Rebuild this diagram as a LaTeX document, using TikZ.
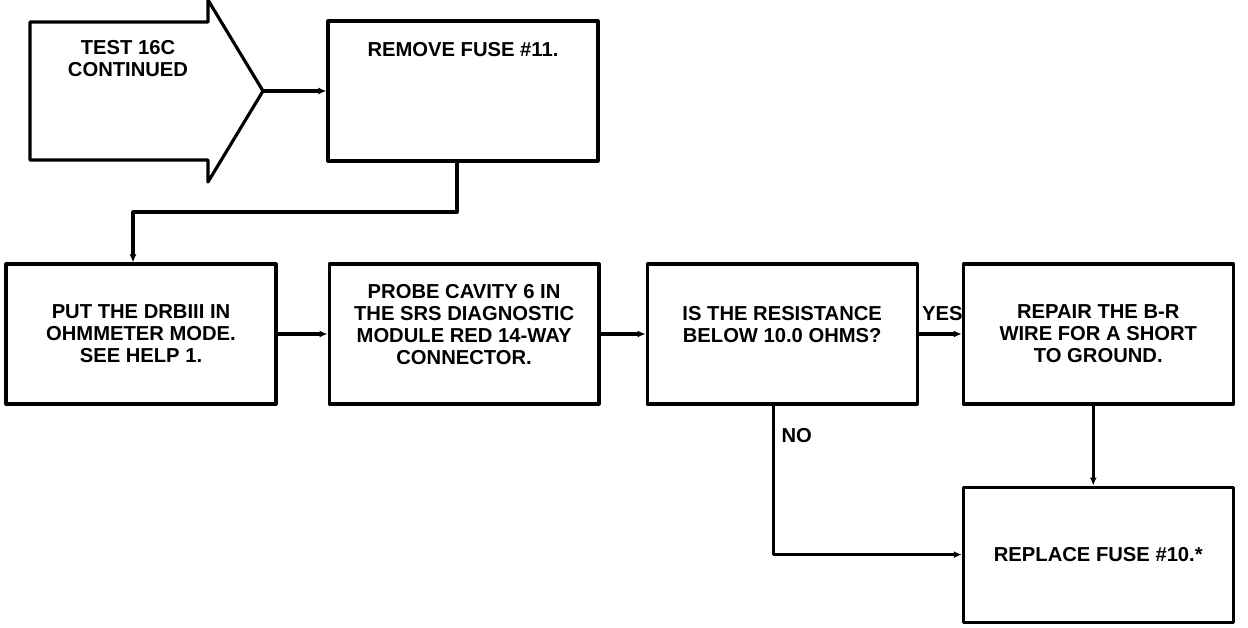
\documentclass[tikz,border=0pt]{standalone}
\usepackage{fontspec}
\setmainfont{Liberation Sans}
\usepackage{tikz}
\usetikzlibrary{arrows.meta,positioning}
\newcommand{\stepfont}{\bfseries\fontsize{11.5}{12.5}\selectfont}

\begin{document}
\begin{tikzpicture}[x = 0.02cm, y = -0.02cm, line width = 1.8pt, line join = round,
						stepbox/.style = {rectangle, draw, minimum width = 5.4cm, minimum height = 2.8cm, align = center, font = \stepfont},
						flow/.style = {-{Latex[length = 1.6mm, width = 1.4mm]}},
						flowlabel/.style = {font = \stepfont, inner sep = 1pt}]
		\useasboundingbox (0,0) rectangle (1248,628);
		% Start arrow
		\coordinate (tip) at (263,91);
		\draw (30,22) -- (208,22) -- (208,0) -- (tip) -- (208,182) -- (208,160) -- (30,160) -- cycle;
		\node (start) at (128,59) [align = center, font = \stepfont] {TEST 16C\\CONTINUED};
		% Boxes
		\node (fuse) at (463,91) [stepbox, label = {[anchor = north, yshift = -0.31cm, font = \stepfont]north:REMOVE FUSE \#11.}] {};
		\node (put) at (141,334) [stepbox] {PUT THE DRBIII IN\\OHMMETER MODE.\\SEE HELP 1.};
		\node (probe) [stepbox, right = 1.0cm of put] {PROBE CAVITY 6 IN\\THE SRS DIAGNOSTIC\\MODULE RED 14-WAY\\CONNECTOR.\\[-2pt]};
		\node (resist) [stepbox, right = 0.9cm of probe] {IS THE RESISTANCE\\BELOW 10.0 OHMS?\\[-2pt]};
		\node (repair) [stepbox, right = 0.86cm of resist] {REPAIR THE B-R\\WIRE FOR A SHORT\\TO GROUND.};
		\node (replace) [stepbox, minimum height = 2.7cm, below = 1.6cm of repair] {REPLACE FUSE \#10.*};
		% Connectors
		\coordinate (bend) at (133,212);
		\draw [flow] (tip) -- (fuse);
		\draw [flow] ([xshift = -0.12cm]fuse.south) |- (bend) -- (bend |- put.north);
		\draw [flow] (put) -- (probe);
		\draw [flow] (probe) -- (resist);
		\draw [flow] (resist) -- node [flowlabel, above = 0.19cm, pos = 0.55] {YES} (repair);
		\draw [flow] ([xshift = -0.1cm]repair.south) -- ([xshift = -0.1cm]replace.north);
		\draw [flow] ([xshift = -0.18cm]resist.south) |- node [flowlabel, right = 0.1cm, pos = 0.1] {NO} (replace.west);
	\end{tikzpicture}
\end{document}
